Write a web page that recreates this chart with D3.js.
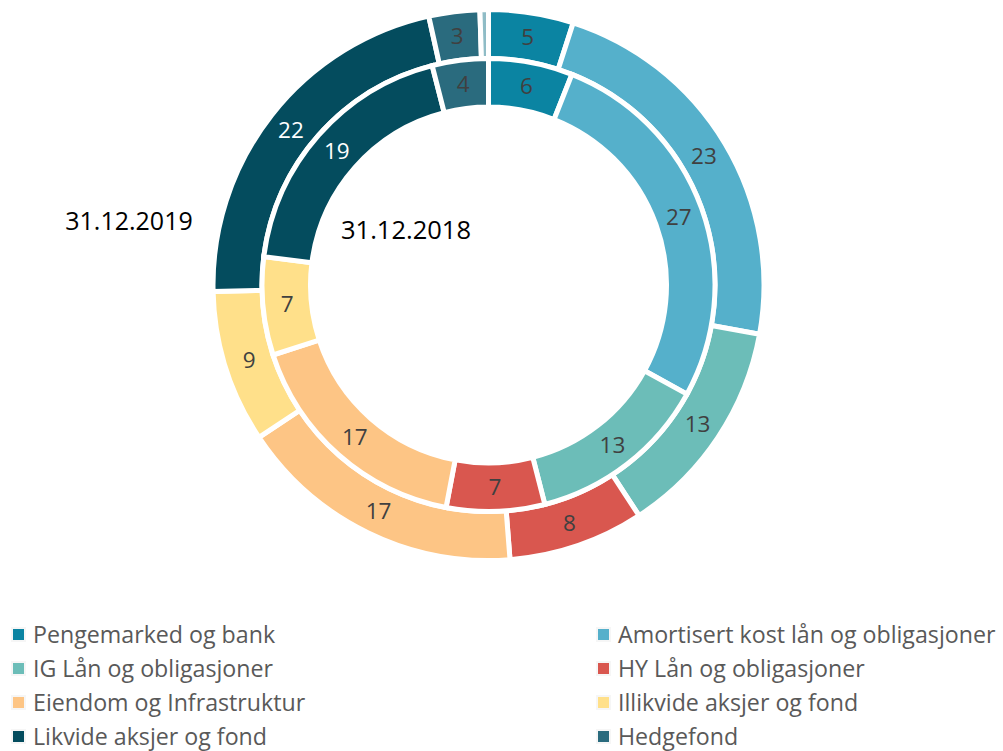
<!DOCTYPE html>
<html>
<head>
<meta charset="utf-8">
<script src="https://cdn.jsdelivr.net/npm/d3@7"></script>
<style>
  html, body { margin: 0; padding: 0; background: #fff; }
  svg { display: block; }
</style>
</head>
<body>
<svg id="chart" width="1003" height="751"></svg>
<script>
// ---- data ----
const categories = [
  "Pengemarked og bank",
  "Amortisert kost lån og obligasjoner",
  "IG Lån og obligasjoner",
  "HY Lån og obligasjoner",
  "Eiendom og Infrastruktur",
  "Illikvide aksjer og fond",
  "Likvide aksjer og fond",
  "Hedgefond",
  "Annet"
];
const colors = ["#0b84a2", "#55b0cb", "#6cbdb8", "#d9574f", "#fdc585", "#ffe08a", "#044c5e", "#2a6b7e", "#8fbcc6"];
const values2019 = [5, 23, 13, 8, 17, 9, 22, 3, 0.5];
const values2018 = [6, 27, 13, 7, 17, 7, 19, 4, 0];
const legendCategories = categories.slice(0, 8);
const ringLabels = ["31.12.2019", "31.12.2018"];

const svg = d3.select("#chart");
const cx = 488.5, cy = 285;
const g = svg.append("g").attr("transform", `translate(${cx},${cy})`);

const pie = d3.pie().sort(null).value(d => d.v);
const color = d3.scaleOrdinal().domain(categories).range(colors);

function ring(values, r0, r1) {
  const data = pie(values.map((v, i) => ({ v, c: categories[i] })));
  const arc = d3.arc().innerRadius(r0).outerRadius(r1);
  const grp = g.append("g");
  grp.selectAll("path").data(data.filter(d => d.data.v > 0)).join("path")
    .attr("d", arc)
    .attr("fill", d => color(d.data.c))
    .attr("stroke", "#ffffff")
    .attr("stroke-width", 5)
    .attr("stroke-linejoin", "miter");
  grp.selectAll("text").data(data.filter(d => d.data.v >= 1)).join("text")
    .attr("transform", d => `translate(${arc.centroid(d)})`)
    .attr("text-anchor", "middle")
    .attr("dy", "0.36em")
    .attr("font-family", "'Open Sans', sans-serif")
    .attr("font-size", 22.5)
    .attr("fill", d => d.data.c === "Likvide aksjer og fond" ? "#ffffff" : "#404040")
    .text(d => d3.format("d")(d.data.v));
}

// faint halo around rings
g.append("circle").attr("r", 276).attr("fill", "none").attr("stroke", "#f3f3f3").attr("stroke-width", 2);
g.append("circle").attr("r", 178).attr("fill", "none").attr("stroke", "#f3f3f3").attr("stroke-width", 2);

ring(values2019, 226.5, 275.5);
ring(values2018, 178, 226.5);

// ring titles
svg.append("text").attr("x", 129).attr("y", 230).attr("text-anchor", "middle")
  .attr("font-family", "'Open Sans', sans-serif").attr("font-size", 25).attr("fill", "#000")
  .text(ringLabels[0]);
svg.append("text").attr("x", 406).attr("y", 239).attr("text-anchor", "middle")
  .attr("font-family", "'Open Sans', sans-serif").attr("font-size", 25.5).attr("fill", "#000")
  .text(ringLabels[1]);

// legend
const colX = [13, 598];
const rowY = [635, 669, 703, 737];
const leg = svg.append("g");
legendCategories.forEach((c, i) => {
  const x = colX[i % 2], y = rowY[Math.floor(i / 2)];
  leg.append("rect").attr("x", x - 2).attr("y", y - 8).attr("width", 15).attr("height", 15)
    .attr("fill", "#f6f6f6");
  leg.append("rect").attr("x", x).attr("y", y - 6).attr("width", 11).attr("height", 11)
    .attr("fill", color(c));
  leg.append("text").attr("x", x + 20).attr("y", y).attr("dy", "0.36em")
    .attr("font-family", "'Open Sans', sans-serif").attr("font-size", 23.2).attr("fill", "#595959")
    .text(c);
});
</script>
</body>
</html>
